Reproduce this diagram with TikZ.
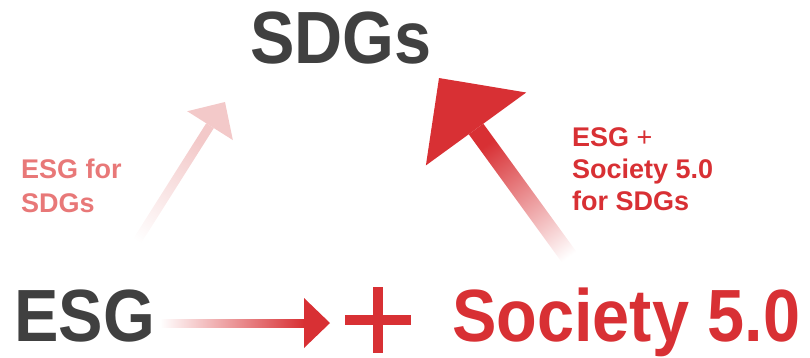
\documentclass[tikz,border=0pt]{standalone}
\usepackage{fontspec}
\setmainfont{Liberation Sans}
\newfontfamily\narrowfont{Liberation Sans}[FakeStretch=0.9]
\usetikzlibrary{calc}
\definecolor{sdgred}{HTML}{D83034}
\definecolor{sdggray}{HTML}{404040}
\definecolor{sdgpink}{HTML}{F3C9C9}
\definecolor{sdglabel}{HTML}{E87878}
\begin{document}
\begin{tikzpicture}[x=1pt,y=-1pt]
\tikzset{bigword/.style={font=\narrowfont\fontsize{74}{74}\selectfont\bfseries, inner sep=0, anchor=base west},
smallword/.style={font=\fontsize{27}{32}\selectfont\bfseries, inner sep=0, anchor=base west, align=left},
}
\useasboundingbox (0,0) rectangle (810,357);
\node[bigword, text=sdggray] (sdgs) at (250,63) {SDGs};
\node[bigword, text=sdggray] (esg) at (14,341) {ESG};
\node[bigword, text=sdgred] (society) at (452,341) {Society 5.0};
\node[smallword, text=sdglabel, font=\fontsize{27}{34}\selectfont\bfseries] (esglabel) at (21,212.5) {ESG for\\SDGs};
\node[smallword, text=sdgred] (bothlabel) at (572,210) {ESG {\mdseries +}\\Society 5.0\\for SDGs};
\coordinate (hstart) at (160,323);
\coordinate (hend) at (330,323);
\coordinate (plus) at (378,320);
\coordinate (stail) at (127,257);
\coordinate (stip) at (225,102);
\coordinate (btail) at (580,272);
\coordinate (btip) at (439,78);
\coordinate (sbase) at ($(stip)!28pt!(stail)$);
\coordinate (bbase) at ($(btip)!63pt!(btail)$);
\shade[left color=white, right color=sdgred] ($(hstart)+(0,-4)$) rectangle ($(hend)+(-26,4)$);
\fill[sdgred] ($(hend)+(-26,-25)$) -- (hend) -- ($(hend)+(-26,25)$) -- cycle;
\draw[sdgred, line width=10] ($(plus)+(-33,0)$) -- ($(plus)+(33,0)$) ($(plus)+(0,-33)$) -- ($(plus)+(0,33)$);
\shade[top color=sdgpink, bottom color=white, shading angle=-32] ($(stail)!4.5pt!90:(stip)$) -- ($(sbase)!4.5pt!90:(stip)$) -- ($(sbase)!4.5pt!-90:(stip)$) -- ($(stail)!4.5pt!-90:(stip)$) -- cycle;
\fill[sdgpink] ($(sbase)!27pt!90:(stip)$) -- (stip) -- ($(sbase)!27pt!-90:(stip)$) -- cycle;
\shade[top color=sdgred, bottom color=white, shading angle=36] ($(btail)!9pt!90:(btip)$) -- ($(bbase)!9pt!90:(btip)$) -- ($(bbase)!9pt!-90:(btip)$) -- ($(btail)!9pt!-90:(btip)$) -- cycle;
\fill[sdgred] ($(bbase)!62pt!90:(btip)$) -- (btip) -- ($(bbase)!62pt!-90:(btip)$) -- cycle;
\end{tikzpicture}
\end{document}
